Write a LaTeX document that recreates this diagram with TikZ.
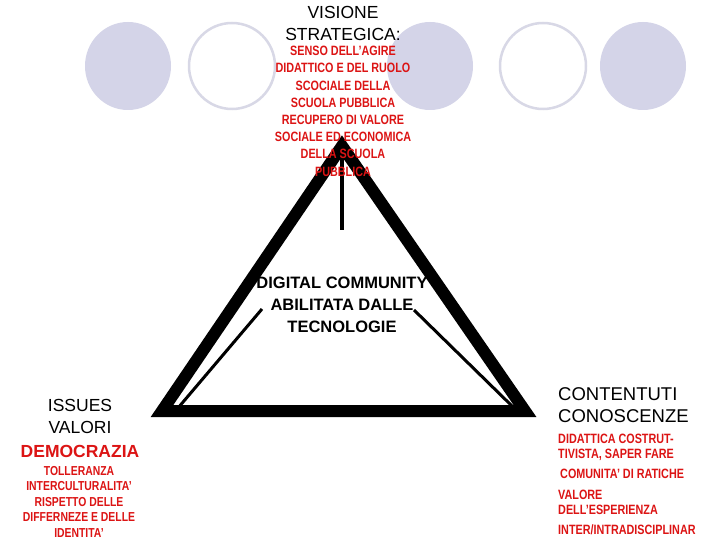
\documentclass[tikz,border=0pt]{standalone}
\usepackage{fontspec}
\setmainfont{Liberation Sans}
\newfontfamily\narrowf[FakeStretch=0.8]{Liberation Sans}
\begin{document}
\begin{tikzpicture}[x=1pt,y=-1pt,
 fcirc/.style={fill=lav,draw=none},
 ocirc/.style={draw=lavline,line width=2.5pt,fill=white},
 red/.style={text=txtred,font=\narrowf\bfseries\fontsize{13.5}{17.2}\selectfont,align=center,inner sep=0},
 blk/.style={font=\fontsize{17.5}{22}\selectfont,align=center,inner sep=0},
 tri/.style={line width=12pt,line join=miter},
 thin/.style={line width=3pt}]
\definecolor{lav}{RGB}{212,212,232}
\definecolor{lavline}{RGB}{216,216,230}
\definecolor{txtred}{RGB}{220,20,20}
\useasboundingbox (0,0) rectangle (720,540);
\fill[white] (0,0) rectangle (720,540);
\path[fcirc] (128,66) ellipse [x radius=43,y radius=44];
\path[ocirc] (232,66) ellipse [x radius=43,y radius=43];
\path[fcirc] (430,66) ellipse [x radius=43,y radius=44];
\path[ocirc] (543,66) ellipse [x radius=43,y radius=43];
\path[fcirc] (643,66) ellipse [x radius=43,y radius=44];
\coordinate (A) at (342,146);
\coordinate (L) at (162,411);
\coordinate (R) at (525,411);
\draw[tri] (A) -- (L) -- (R) -- cycle;
\coordinate (v1) at (342,140);
\coordinate (v2) at (342,230);
\draw[line width=4pt] (v2) -- (v1);
\coordinate (l1) at (262,309);
\coordinate (l2) at (178,408);
\coordinate (r1) at (414,310);
\coordinate (r2) at (512,406);
\draw[thin] (l1) -- (l2);
\draw[thin] (r1) -- (r2);
\node[blk] (vis) at (343,23) {VISIONE\\STRATEGICA:};
\node[red,anchor=north] (senso) at (343,46) {SENSO DELL’AGIRE\\DIDATTICO E DEL RUOLO\\SCOCIALE DELLA\\SCUOLA PUBBLICA\\RECUPERO DI VALORE\\SOCIALE ED ECONOMICA\\DELLA SCUOLA\\PUBBLICA};
\node[blk,font=\bfseries\fontsize{16.5}{22}\selectfont] (dig) at (342,305) {DIGITAL COMMUNITY\\ABILITATA DALLE\\TECNOLOGIE};
\node[blk,anchor=north] (iss) at (80,399) {ISSUES\\VALORI};
\node[blk,anchor=north,text=txtred,font=\bfseries\fontsize{17.5}{22}\selectfont] (dem) at (80,445) {DEMOCRAZIA};
\node[red,anchor=north,font=\narrowf\bfseries\fontsize{13}{15.5}\selectfont] (tol) at (79,466) {TOLLERANZA\\INTERCULTURALITA’\\RISPETTO DELLE\\DIFFERNEZE E DELLE\\IDENTITA’};
\node[blk,anchor=north west,align=left,font=\fontsize{18.5}{22}\selectfont] (cont) at (558,387) {CONTENTUTI\\CONOSCENZE};
\node[red,anchor=north west,align=left,font=\narrowf\bfseries\fontsize{13.5}{15}\selectfont] (did) at (558,434) {DIDATTICA COSTRUT-\\TIVISTA, SAPER FARE};
\node[red,anchor=north west,align=left] (com) at (560,469) {COMUNITA’ DI RATICHE};
\node[red,anchor=north west,align=left,font=\narrowf\bfseries\fontsize{13.5}{15}\selectfont] (val) at (558,490) {VALORE\\DELL’ESPERIENZA};
\node[red,anchor=north west,align=left] (int) at (558,525) {INTER/INTRADISCIPLINAR};
\end{tikzpicture}
\end{document}
